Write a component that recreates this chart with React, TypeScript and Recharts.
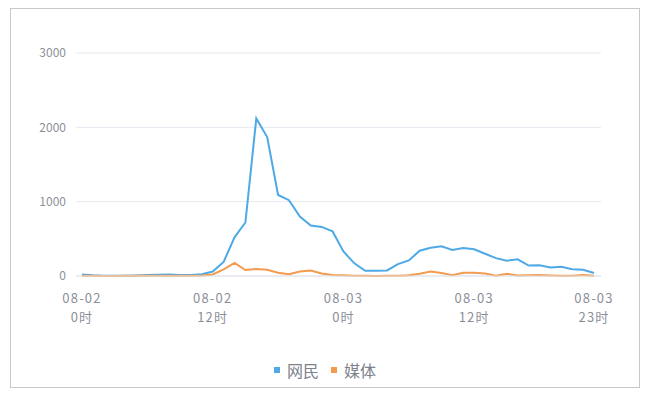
import React from "react";
import { LineChart, Line, XAxis, YAxis, CartesianGrid, Legend } from "recharts";

const hours: number[] = Array.from({ length: 48 }, (_, i) => i);
const dateLabels: string[] = ["08-02", "08-03"];
const tickHours: number[] = [0, 12, 24, 36, 47];
const yTicks: number[] = [0, 1000, 2000, 3000];
const seriesOrder: string[] = ["网民", "媒体"];

const netizens: number[] = [
  20, 10, 5, 5, 5, 8, 12, 18, 20, 15, 15, 25, 60, 190, 520, 720,
  2120, 1870, 1090, 1020, 800, 680, 660, 600, 330, 170, 70, 70, 75, 160, 210, 340,
  380, 400, 350, 375, 360, 300, 240, 205, 225, 140, 145, 115, 125, 90, 85, 40,
];
const media: number[] = [
  2, 2, 0, 0, 3, 3, 2, 2, 3, 3, 5, 8, 20, 90, 175, 80,
  95, 85, 45, 25, 60, 75, 35, 15, 10, 5, 2, 0, 2, 3, 10, 30,
  60, 40, 10, 45, 45, 35, 5, 30, 8, 10, 12, 8, 3, 5, 15, 2,
];

const data = hours.map((h, i) => ({ h, 网民: netizens[i], 媒体: media[i] }));

const FONT = "'Noto Sans CJK SC', 'Noto Sans', sans-serif";
const COLORS: Record<string, string> = { 网民: "#4ea9e6", 媒体: "#f39b4e" };

const XTick = (props: any) => {
  const { x, y, payload } = props;
  const h = payload.value as number;
  const date = dateLabels[Math.floor(h / 24)];
  const hr = `${h % 24}时`;
  const common = {
    textAnchor: "middle" as const,
    fill: "#8c8f99",
    fontSize: 13,
    fontFamily: FONT,
    letterSpacing: 1.2,
  };
  return (
    <g transform={`translate(${x},${y})`}>
      <text {...common} x={0} y={19}>{date}</text>
      <text {...common} x={0} y={37.5}>{hr}</text>
    </g>
  );
};

const LegendContent = () => (
  <div
    style={{
      display: "flex",
      justifyContent: "center",
      alignItems: "center",
      fontFamily: FONT,
      fontSize: 16,
      color: "#7d818b",
      lineHeight: "20px",
    }}
  >
    {seriesOrder.map((name, i) => (
      <div
        key={name}
        style={{ display: "flex", alignItems: "center", marginLeft: i === 0 ? 0 : 12 }}
      >
        <span
          style={{
            display: "inline-block",
            width: 6,
            height: 6,
            background: COLORS[name],
            marginRight: 7,
          }}
        />
        <span>{name}</span>
      </div>
    ))}
  </div>
);

export default function App() {
  return (
    <div
      style={{
        width: 628,
        height: 378,
        border: "1px solid #c8c8c8",
        marginLeft: 2,
        background: "#fff",
      }}
    >
      <LineChart
        width={628}
        height={378}
        data={data}
        margin={{ top: 44, right: 38, bottom: 0, left: 0 }}
      >
        <CartesianGrid vertical={false} stroke="#e6e9f0" />
        <XAxis
          dataKey="h"
          type="number"
          domain={[0, 47]}
          ticks={tickHours}
          padding={{ left: 6, right: 7 }}
          tick={<XTick />}
          tickLine={false}
          axisLine={{ stroke: "#e0e3ea" }}
          height={90}
          interval={0}
        />
        <YAxis
          domain={[0, 3000]}
          ticks={yTicks}
          width={65}
          axisLine={false}
          tickLine={false}
          tickMargin={4}
          tick={{ fill: "#8c8f99", fontSize: 12, fontFamily: FONT }}
        />
        <Legend
          verticalAlign="bottom"
          align="center"
          width={628}
          height={21}
          content={<LegendContent />}
          wrapperStyle={{ bottom: 6, left: 0 }}
        />
        <Line
          type="linear"
          dataKey="网民"
          stroke={COLORS["网民"]}
          strokeWidth={2}
          dot={false}
          isAnimationActive={false}
        />
        <Line
          type="linear"
          dataKey="媒体"
          stroke={COLORS["媒体"]}
          strokeWidth={2}
          dot={false}
          isAnimationActive={false}
        />
      </LineChart>
    </div>
  );
}
